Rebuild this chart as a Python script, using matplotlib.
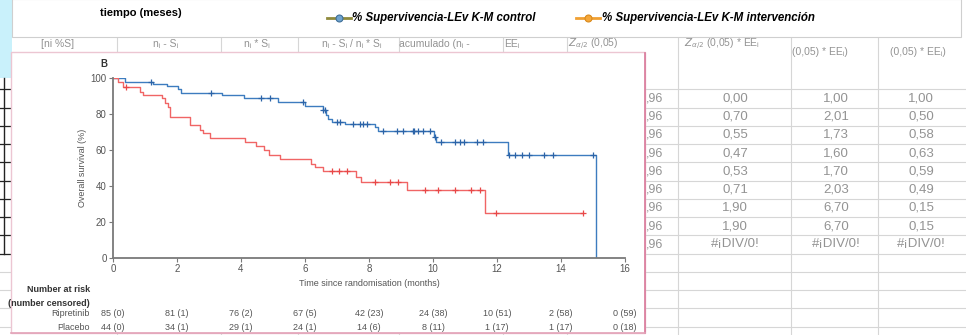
import numpy as np
import matplotlib
matplotlib.use('Agg')
import matplotlib.pyplot as plt
from matplotlib.patches import Rectangle

# Kaplan-Meier curves (months, % alive)
ripretinib_t = [0, 0.38, 1.26, 1.68, 2.04, 2.11, 3.4, 4.09, 5.17, 6.0, 6.55, 6.66, 6.73,
                6.83, 7.25, 8.19, 8.29, 10.03, 10.1, 12.33, 15.09]
ripretinib_s = [100, 97.9, 96.7, 95.5, 93.7, 91.9, 90.5, 88.7, 86.5, 84.5, 82.5, 79.5, 77.5,
                75.7, 74.4, 72.9, 70.7, 67.4, 64.6, 57.2, 0]
ripretinib_cens = [1.18, 3.05, 4.63, 4.9, 5.95, 6.57, 6.62, 7.0, 7.08, 7.5, 7.72, 7.8, 7.94,
                   8.43, 8.86, 9.07, 9.36, 9.4, 9.54, 9.7, 9.9, 10.06, 10.26, 10.69, 10.84,
                   10.97, 11.37, 11.55, 12.37, 12.56, 12.77, 13.0, 13.47, 13.76, 15.0]

placebo_t = [0, 0.17, 0.32, 0.84, 0.95, 1.52, 1.63, 1.73, 1.78, 2.41, 2.72, 2.82, 3.03,
             4.12, 4.46, 4.72, 4.87, 5.22, 6.2, 6.3, 6.57, 7.6, 7.74, 9.2, 11.62]
placebo_s = [100, 97.6, 95.2, 92.4, 90.5, 88.7, 86.3, 83.7, 78.1, 73.9, 71.1, 69.3, 66.5,
             64.6, 62.2, 60.0, 57.2, 54.8, 52.2, 50.4, 48.5, 45.2, 42.0, 37.6, 24.8]
placebo_end = 14.7
placebo_cens = [0.4, 6.83, 7.07, 7.3, 8.19, 8.66, 8.9, 9.75, 10.17, 10.69, 11.2, 11.47,
                11.97, 14.7]

risk_times = [0, 2, 4, 6, 8, 10, 12, 14, 16]
ripretinib_risk = [85, 81, 76, 67, 42, 24, 10, 2, 0]
ripretinib_censored = [0, 1, 2, 5, 23, 38, 51, 58, 59]
placebo_risk = [44, 34, 29, 24, 14, 8, 1, 1, 0]
placebo_censored = [0, 1, 1, 1, 6, 11, 17, 17, 18]

# spreadsheet cells around the pasted image
header_labels = ['[ni %S]', 'nᵢ - Sᵢ', 'nᵢ * Sᵢ', 'nᵢ - Sᵢ / nᵢ * Sᵢ', 'acumulado (nᵢ -',
                 'EEᵢ', '$Z_{\\alpha/2}$ (0,05)', '$Z_{\\alpha/2}$ (0,05) * EEᵢ']
z_times_ee = ['0,00', '0,70', '0,55', '0,47', '0,53', '0,71', '1,90', '1,90', '#¡DIV/0!']
upper_col = ['1,00', '2,01', '1,73', '1,60', '1,70', '2,03', '6,70', '6,70', '#¡DIV/0!']
lower_col = ['1,00', '0,50', '0,58', '0,63', '0,59', '0,49', '0,15', '0,15', '#¡DIV/0!']

BLUE = '#3d7cbf'
RED = '#f06565'
GREY = '#555555'
CELL = '#939393'
KM_FONT = ['Liberation Sans', 'DejaVu Sans']
XL_FONT = ['Liberation Sans Narrow', 'Liberation Sans', 'DejaVu Sans']

fig = plt.figure(figsize=(9.66, 3.35), dpi=100)

# background sheet in pixel coordinates
bg = fig.add_axes([0, 0, 1, 1])
bg.set_xlim(0, 966)
bg.set_ylim(335, 0)
bg.axis('off')

row_edges = 89.3 + 18.25 * np.arange(14)
for x in [117, 221, 298, 399, 503, 567, 678, 791, 878]:
    bg.plot([x, x], [37, 335], color='#d6d6d6', lw=0.8, zorder=1)
for y in row_edges:
    bg.plot([0, 966], [y, y], color='#d6d6d6', lw=0.8, zorder=1)

bg.add_patch(Rectangle((0, 0), 12, 78, facecolor='#c9f1fb', edgecolor='none', zorder=1))
bg.plot([3.5, 3.5], [78, row_edges[9]], color='#222222', lw=1, zorder=1)
for y in row_edges[:10]:
    bg.plot([0, 12], [y, y], color='#222222', lw=0.9, zorder=1)

# header texts of the hidden table
head_x = [58, 166, 257, 352, 434, 512, 593, 722]
for x, lab in zip(head_x, header_labels):
    bg.text(x, 44, lab, ha='center', va='center', fontsize=7.5, color=CELL,
            family=XL_FONT, zorder=2)
for x in [820, 918]:
    bg.text(x, 52, '(0,05) * EEᵢ)', ha='center', va='center', fontsize=7.5,
            color=CELL, family=XL_FONT, zorder=2)

# visible table values on the right
for i in range(len(z_times_ee)):
    y = (row_edges[i] + row_edges[i + 1]) / 2
    bg.text(663, y, ',96', ha='right', va='center', fontsize=9, color=CELL,
            family=KM_FONT, zorder=6)
    bg.text(735, y, z_times_ee[i], ha='center', va='center', fontsize=9.5, color=CELL,
            family=KM_FONT, zorder=2)
    bg.text(836, y, upper_col[i], ha='center', va='center', fontsize=9.5, color=CELL,
            family=KM_FONT, zorder=2)
    bg.text(921, y, lower_col[i], ha='center', va='center', fontsize=9.5, color=CELL,
            family=KM_FONT, zorder=2)

# pasted picture frame
bg.add_patch(Rectangle((11, 52), 634, 281, facecolor='white', edgecolor='#ecc6d2',
                       lw=1, zorder=3))
bg.plot([645, 645], [53, 333], color='#d9799a', lw=1.2, zorder=4)
bg.plot([11, 645], [333, 333], color='#e3a3b8', lw=1.2, zorder=4)

# chart legend box on top
bg.add_patch(Rectangle((12, -1), 949, 38, facecolor='white', edgecolor='#cfcfcf',
                       lw=0.8, zorder=5))
bg.text(100, 13, 'tiempo (meses)', ha='left', va='center', fontsize=8,
        fontweight='bold', family=XL_FONT, zorder=6)
bg.plot([327, 351], [18, 18], color='#8f8a3c', lw=2, zorder=6)
bg.plot([339], [18], marker='o', ms=5, mfc='#6fa3cf', mec='#3f6f98', mew=0.8, zorder=7)
bg.text(352, 18, '% Supervivencia-LEv K-M control', ha='left', va='center', fontsize=8.3,
        fontweight='bold', fontstyle='italic', family=XL_FONT, zorder=6)
bg.plot([576, 600], [18, 18], color='#f0a033', lw=2, zorder=6)
bg.plot([588], [18], marker='o', ms=5, mfc='#f5a73a', mec='#d98a1c', mew=0.8, zorder=7)
bg.text(602, 18, '% Supervivencia-LEv K-M intervención', ha='left', va='center',
        fontsize=8.3, fontweight='bold', fontstyle='italic', family=XL_FONT, zorder=6)

# Kaplan-Meier panel
ax = fig.add_axes([113 / 966, (335 - 258) / 335, 512 / 966, 180 / 335])
ax.set_zorder(2)
ax.set_facecolor('none')

ax.step(ripretinib_t, ripretinib_s, where='post', color=BLUE, lw=1)
ax.step(placebo_t + [placebo_end], placebo_s + [placebo_s[-1]], where='post', color=RED, lw=1)


def level(t, s, c):
    idx = np.searchsorted(t, c, side='right') - 1
    return np.array(s)[idx]


ax.plot(ripretinib_cens, level(ripretinib_t, ripretinib_s, ripretinib_cens), '+',
        color='#2c64a8', ms=5, mew=0.9)
ax.plot(placebo_cens, level(placebo_t, placebo_s, placebo_cens), '+',
        color='#e84848', ms=5, mew=0.9)

ax.set_xlim(0, 16)
ax.set_ylim(0, 100)
ax.set_xticks(risk_times)
ax.set_yticks([0, 20, 40, 60, 80, 100])
ax.spines['top'].set_visible(False)
ax.spines['right'].set_visible(False)
for sp in ['left', 'bottom']:
    ax.spines[sp].set_color('#7a7a7a')
    ax.spines[sp].set_linewidth(1.3)
ax.tick_params(direction='out', length=3, width=0.8, color='#7a7a7a', pad=1.5,
               labelsize=7, labelcolor=GREY)
for lab in ax.get_xticklabels() + ax.get_yticklabels():
    lab.set_family(KM_FONT)

trans = ax.get_xaxis_transform()
ax.text(8, (258 - 283) / 180, 'Time since randomisation (months)', transform=trans,
        ha='center', va='center', fontsize=6.5, color=GREY, family=KM_FONT)
ax.text(-0.95, 50, 'Overall survival (%)', rotation=90, ha='center', va='center',
        fontsize=6.5, color=GREY, family=KM_FONT, clip_on=False)
ax.text(-0.3, (258 - 64) / 180, 'B', transform=trans, ha='center', va='center',
        fontsize=7, fontweight='bold', color='#333333', family=KM_FONT)
ax.text(15.9, 0.9, 'HR 0·36 (95% CI 0·21–0·62)', transform=ax.transAxes, ha='right',
        va='center', fontsize=6.5, color=GREY, family=KM_FONT)

for t, n, c in zip(risk_times, ripretinib_risk, ripretinib_censored):
    ax.text(t, (258 - 314) / 180, f'{n} ({c})', transform=trans, ha='center', va='center',
            fontsize=6.5, color=GREY, family=KM_FONT)
for t, n, c in zip(risk_times, placebo_risk, placebo_censored):
    ax.text(t, (258 - 327) / 180, f'{n} ({c})', transform=trans, ha='center', va='center',
            fontsize=6.5, color=GREY, family=KM_FONT)

bg.text(90, 290, 'Number at risk', ha='right', va='center', fontsize=6.5,
        fontweight='bold', color='#333333', family=KM_FONT, zorder=6)
bg.text(90, 303, '(number censored)', ha='right', va='center', fontsize=6.5,
        fontweight='bold', color='#333333', family=KM_FONT, zorder=6)
bg.text(90, 314, 'Ripretinib', ha='right', va='center', fontsize=6.5, color=GREY,
        family=KM_FONT, zorder=6)
bg.text(90, 327, 'Placebo', ha='right', va='center', fontsize=6.5, color=GREY,
        family=KM_FONT, zorder=6)

fig.savefig('out.png', dpi=100)
